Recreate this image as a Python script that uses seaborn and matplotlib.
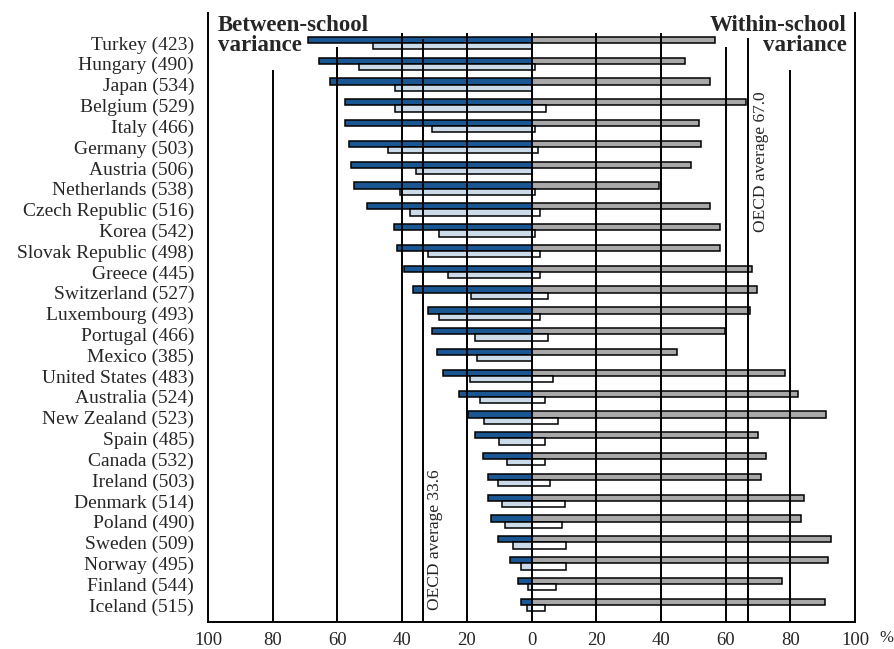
import numpy as np
import pandas as pd
import matplotlib
matplotlib.use("Agg")
import matplotlib.pyplot as plt
import seaborn as sns

# Country names and mean scores (shown in brackets)
countries = ["Turkey", "Hungary", "Japan", "Belgium", "Italy", "Germany", "Austria",
             "Netherlands", "Czech Republic", "Korea", "Slovak Republic", "Greece",
             "Switzerland", "Luxembourg", "Portugal", "Mexico", "United States",
             "Australia", "New Zealand", "Spain", "Canada", "Ireland", "Denmark",
             "Poland", "Sweden", "Norway", "Finland", "Iceland"]
scores = [423, 490, 534, 529, 466, 503, 506, 538, 516, 542, 498, 445, 527, 493,
          466, 385, 483, 524, 523, 485, 532, 503, 514, 490, 509, 495, 544, 515]

# Between-school variance (left side) - total and part explained
between_total = [69.0, 65.6, 62.3, 57.5, 57.5, 56.4, 55.8, 54.9, 50.8, 42.5, 41.5, 39.5,
                 36.6, 32.1, 30.9, 29.2, 27.5, 22.4, 19.6, 17.5, 14.9, 13.3, 13.3, 12.6,
                 10.5, 6.7, 4.1, 3.3]
between_expl = [49.1, 53.3, 42.2, 42.2, 30.9, 44.3, 35.7, 40.7, 37.6, 28.5, 32.1, 25.8,
                18.8, 28.5, 17.4, 16.8, 19.1, 16.0, 14.7, 10.0, 7.5, 10.3, 9.0, 8.3,
                5.7, 3.3, 1.2, 1.5]

# Within-school variance (right side) - total and part explained
within_total = [56.6, 47.6, 55.1, 66.4, 51.7, 52.5, 49.2, 39.4, 55.1, 58.2, 58.2, 68.3,
                69.8, 67.4, 59.9, 45.1, 78.3, 82.5, 90.9, 70.0, 72.6, 70.8, 84.1, 83.4,
                92.5, 91.8, 77.5, 90.8]
within_expl = [0.0, 1.0, 0.0, 4.4, 1.0, 1.9, 0.0, 1.0, 2.6, 1.0, 2.6, 2.6,
               5.1, 2.6, 5.1, 0.0, 6.7, 4.1, 8.2, 4.1, 4.1, 5.7, 10.3, 9.3,
               10.8, 10.8, 7.7, 4.1]

oecd_between = 33.6
oecd_within = 67.0

labels = [f"{c} ({s})" for c, s in zip(countries, scores)]
n = len(labels)

left = pd.DataFrame({
    "label": labels * 2,
    "value": [-v for v in between_total] + [-v for v in between_expl],
    "kind": ["total"] * n + ["explained"] * n,
})
right = pd.DataFrame({
    "label": labels * 2,
    "value": within_total + within_expl,
    "kind": ["total"] * n + ["explained"] * n,
})

sns.set_style("white")
plt.rcParams["font.family"] = ["Liberation Serif", "DejaVu Serif"]

fig = plt.figure(figsize=(8.94, 6.49), dpi=100)
ax = fig.add_axes([208 / 894, 27 / 649, (855 - 208) / 894, (622 - 13) / 649])

common = dict(y="label", x="value", hue="kind", hue_order=["total", "explained"],
              orient="h", width=0.6, gap=0, dodge=True, errorbar=None,
              edgecolor="black", linewidth=1.1, legend=False, ax=ax, order=labels)
sns.barplot(data=left, palette=["#0657a6", "#c6dbef"], **common)
sns.barplot(data=right, palette=["#a8a8a8", "#ffffff"], **common)

ax.set_ylim(27.82, -1.44)
ax.set_xlim(-100, 100)

# vertical reference lines, drawn over the bars
line_kw = dict(color="black", linewidth=1.4, zorder=5)
for x in [-40, -20, 0, 20, 40]:
    ax.vlines(x, -0.48, 27.82, **line_kw)
for x in [-60, 60]:
    ax.vlines(x, 0.17, 27.82, **line_kw)
for x in [-80, 80]:
    ax.vlines(x, 1.30, 27.82, **line_kw)
ax.vlines(-oecd_between, -0.2, 27.82, **line_kw)
ax.vlines(oecd_within, -0.24, 27.82, **line_kw)

ax.text(-oecd_between + 1.4, 27.25, f"OECD average {oecd_between:.1f}", rotation=90,
        ha="left", va="bottom", fontsize=12.5, zorder=6)
ax.text(oecd_within + 1.4, 9.1, f"OECD average {oecd_within:.1f}", rotation=90,
        ha="left", va="bottom", fontsize=12.5, zorder=6)

ax.text(-97, -1.36, "Between-school\nvariance", ha="left", va="top",
        fontsize=16.5, fontweight="bold", linespacing=0.98)
ax.text(97.5, -1.36, "Within-school\nvariance", ha="right", va="top",
        fontsize=16.5, fontweight="bold", linespacing=0.98, multialignment="right")

for side in ["left", "right", "bottom"]:
    ax.spines[side].set_color("black")
    ax.spines[side].set_linewidth(1.4)
ax.spines["top"].set_visible(False)

ticks = list(range(-100, 101, 20))
ax.set_xticks(ticks)
ax.set_xticklabels([str(abs(t)) for t in ticks], fontsize=13.5)
ax.tick_params(axis="x", length=0, pad=7)
ax.tick_params(axis="y", length=0, pad=10, labelsize=14)
ax.set_xlabel("")
ax.set_ylabel("")
fig.text(886 / 894, 1 - 638 / 649, "%", fontsize=12, ha="center", va="center")

fig.savefig("out.png", dpi=100)
